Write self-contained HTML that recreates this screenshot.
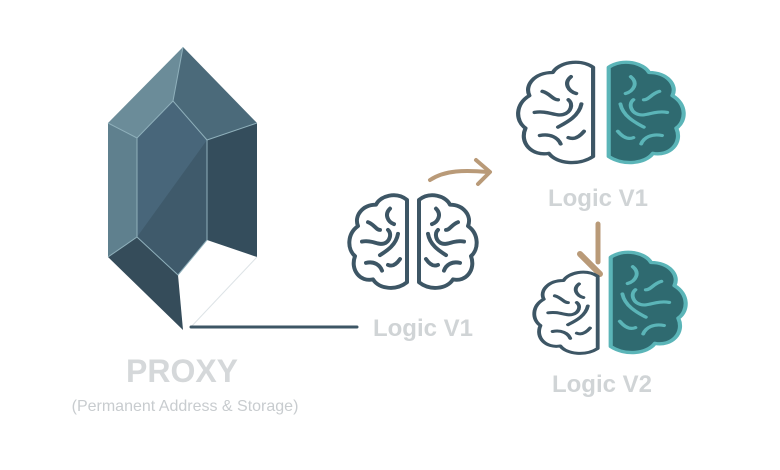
<!DOCTYPE html>
<html><head><meta charset="utf-8"><style>
html,body{margin:0;padding:0;background:#fff;}
svg{display:block}
text{font-family:"Liberation Sans",sans-serif;font-weight:bold}
</style></head><body>
<svg width="780" height="470" viewBox="0 0 780 470" xmlns="http://www.w3.org/2000/svg">
<defs>
<path id="hemi" d="M -3 5 C -14 -4 -30 1 -34 10 C -48 10 -56 22 -52 32 C -63 40 -63 56 -55 63 C -60 77 -50 90 -37 87 C -31 97 -14 99 -3 90 Z"/>
<g id="wr">
<path d="M -20 14 C -26 20 -22 28 -16 30"/>
<path d="M -42 28 C -36 30 -34 36 -30 36"/>
<path d="M -48 48 C -38 46 -32 52 -26 50 C -20 48 -18 40 -22 36"/>
<path d="M -12 40 C -14 52 -24 58 -30 62"/>
<path d="M -44 70 C -36 68 -30 72 -28 78"/>
<path d="M -10 66 C -14 72 -18 74 -22 72"/>
</g>
</defs>
<!-- crystal -->
<polygon points="183,47 108,123 137,138 173,101" fill="#6b8c99"/>
<polygon points="183,47 173,101 207,140 257,123" fill="#4b6a7a"/>
<polygon points="108,123 137,138 137,237 108,257" fill="#5f808e"/>
<polygon points="173,101 137,138 137,237 178,275 207,240 207,140" fill="#48667a"/>
<polygon points="137,237 178,275 207,240 207,140" fill="#3f5a6b"/>
<polygon points="207,140 257,123 257,257 207,240" fill="#344d5c"/>
<polygon points="108,257 137,237 178,275 183,330" fill="#354c5a"/>
<g stroke="#8fb0bb" stroke-width="1" fill="none">
<polyline points="183,47 173,101 207,140 257,123"/>
<polyline points="108,123 137,138 173,101"/>
<polyline points="137,138 137,237 178,275 207,240 207,140"/>
<polyline points="108,257 137,237"/>
</g>
<line x1="257" y1="257" x2="190" y2="328" stroke="#dde3e6" stroke-width="1"/>
<line x1="191" y1="327" x2="357" y2="327" stroke="#3d5665" stroke-width="3" stroke-linecap="round"/>
<text x="182" y="382" text-anchor="middle" font-size="32" fill="#d5d8da">PROXY</text>
<text x="185" y="411" text-anchor="middle" font-size="16" fill="#c8cccf" style="font-weight:normal">(Permanent Address &amp; Storage)</text>
<!-- middle brain -->
<g transform="translate(410,195) scale(1,0.97)" fill="#fff" stroke="#3d5665" stroke-width="4" stroke-linecap="round" stroke-linejoin="round">
<use href="#hemi"/><use href="#wr" fill="none"/>
<g transform="translate(6,0) scale(-1,1)"><use href="#hemi"/><use href="#wr" fill="none"/></g>
</g>
<text x="423" y="336" text-anchor="middle" font-size="24" fill="#d0d4d6">Logic V1</text>
<!-- arrow -->
<path d="M 430 180 C 445 170 465 170 488 172" fill="none" stroke="#b99a78" stroke-width="4" stroke-linecap="round"/>
<polyline points="476,160 490,172 478,184" fill="none" stroke="#b99a78" stroke-width="4" stroke-linecap="round" stroke-linejoin="round"/>
<!-- top right brain -->
<g transform="translate(597,62) scale(1.3,1.05)" stroke-linecap="round" stroke-linejoin="round">
<g fill="#fff" stroke="#3d5665" stroke-width="3.2"><use href="#hemi"/><use href="#wr" fill="none"/></g>
<g transform="translate(6,0) scale(-1,1)"><use href="#hemi" fill="#2f6a70" stroke="#5bb5b8" stroke-width="3.2"/><use href="#wr" fill="none" stroke="#5bb5b8" stroke-width="3"/></g>
</g>
<text x="598" y="206" text-anchor="middle" font-size="24" fill="#d0d4d6">Logic V1</text>
<!-- down arrow -->
<line x1="598" y1="224" x2="598" y2="262" stroke="#b99a78" stroke-width="5" stroke-linecap="round"/>
<polyline points="580,254 600,274" fill="none" stroke="#b99a78" stroke-width="6" stroke-linecap="round"/>
<!-- bottom brain -->
<g transform="translate(601,272) scale(1.1,0.85)" stroke-linecap="round" stroke-linejoin="round">
<g fill="#fff" stroke="#3d5665" stroke-width="3.5"><use href="#hemi"/><use href="#wr" fill="none"/></g>
</g>
<g transform="translate(599,252) scale(1.3,1.05)" stroke-linecap="round" stroke-linejoin="round">
<g transform="translate(6,0) scale(-1,1)"><use href="#hemi" fill="#2f6a70" stroke="#5bb5b8" stroke-width="3.2"/><use href="#wr" fill="none" stroke="#5bb5b8" stroke-width="3"/></g>
</g>
<text x="602" y="392" text-anchor="middle" font-size="24" fill="#d0d4d6">Logic V2</text>
</svg>
</body></html>
